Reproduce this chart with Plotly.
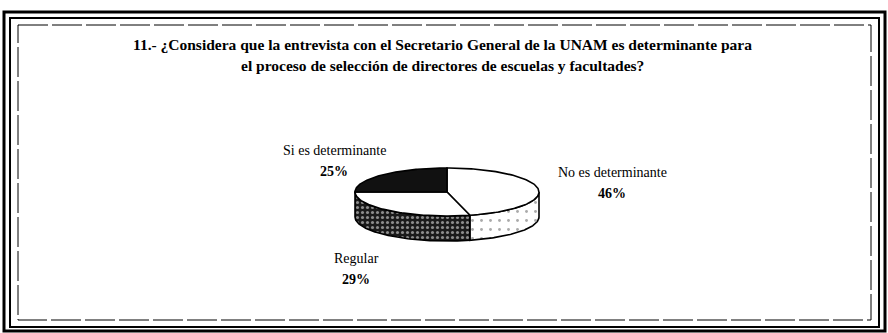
import numpy as np
import plotly.graph_objects as go

# Survey answers, in clockwise order starting at 12 o'clock
categories = ["No es determinante", "Regular", "Si es determinante"]
values = [46, 29, 25]
pct_labels = ["46%", "29%", "25%"]

title_lines = [
    "11.- ¿Considera que la entrevista con el Secretario General de la UNAM es determinante para",
    "el proceso de selección de directores de escuelas y facultades?",
]

W, H = 888, 333
SERIF = "Liberation Serif"

# 3D pie geometry (pixel space, y grows downward)
CX, CY = 447, 192
RX, RY = 92, 24
DEPTH = 25

top_fill = ["white", "white", "#111111"]
side_style = [
    dict(fillcolor="white", fillpattern=dict(shape=".", fgcolor="#555555", bgcolor="white",
                                             size=9, solidity=0.08)),
    dict(fillcolor="#222222", fillpattern=dict(shape=".", fgcolor="white", bgcolor="#1a1a1a",
                                               size=5, solidity=0.3)),
    dict(fillcolor="#111111"),
]


def pt(theta_deg, drop=0.0):
    t = np.radians(theta_deg)
    return CX + RX * np.cos(t), CY - RY * np.sin(t) + drop


fig = go.Figure()

# slice angle spans (clockwise from 90 degrees)
total = float(sum(values))
spans = []
start = 90.0
for v in values:
    sweep = 360.0 * v / total
    spans.append((start, start - sweep))
    start -= sweep

# side walls: only the front half (angles -180..0) is visible
for i, (a0, a1) in enumerate(spans):
    hi, lo = min(a0, 0.0), max(a1, -180.0)
    if hi <= lo:
        continue
    th = np.linspace(hi, lo, 80)
    xs_t, ys_t = pt(th)
    xs_b, ys_b = pt(th[::-1], DEPTH)
    xs = np.concatenate([xs_t, xs_b, xs_t[:1]])
    ys = np.concatenate([ys_t, ys_b, ys_t[:1]])
    fig.add_trace(go.Scatter(x=xs, y=ys, mode="lines", fill="toself",
                             line=dict(color="black", width=1.6),
                             hoverinfo="skip", showlegend=False, **side_style[i]))

# top faces
for i, (a0, a1) in enumerate(spans):
    th = np.linspace(a0, a1, 120)
    xs, ys = pt(th)
    xs = np.concatenate([[CX], xs, [CX]])
    ys = np.concatenate([[CY], ys, [CY]])
    fig.add_trace(go.Scatter(x=xs, y=ys, mode="lines", fill="toself",
                             fillcolor=top_fill[i],
                             line=dict(color="black", width=1.6),
                             name=categories[i], hoverinfo="name", showlegend=False))

# slice labels
label_pos = {
    "No es determinante": (612, 172),
    "Regular": (356, 258),
    "Si es determinante": (334, 150),
}
annotations = []
for cat, pct in zip(categories, pct_labels):
    x, y = label_pos[cat]
    annotations.append(dict(x=x, y=y, text=cat, showarrow=False, xref="x", yref="y",
                            font=dict(family=SERIF, size=14, color="black")))
    annotations.append(dict(x=x, y=y + 21, text=f"<b>{pct}</b>", showarrow=False,
                            xref="x", yref="y",
                            font=dict(family=SERIF, size=14, color="black")))

# two-line title
for k, line in enumerate(title_lines):
    annotations.append(dict(x=442, y=44 + 21 * k, text=f"<b>{line}</b>", showarrow=False,
                            xref="x", yref="y",
                            font=dict(family=SERIF, size=15.5, color="black")))

# double frame plus inner thin border
shapes = [
    dict(type="rect", x0=4, y0=12, x1=885, y1=331, xref="x", yref="y",
         line=dict(color="black", width=3)),
    dict(type="rect", x0=10, y0=18, x1=879, y1=327, xref="x", yref="y",
         line=dict(color="black", width=2)),
    dict(type="rect", x0=18, y0=25, x1=871, y1=320, xref="x", yref="y",
         line=dict(color="black", width=1, dash="30px,4px")),
]

fig.update_layout(
    width=W, height=H,
    margin=dict(l=0, r=0, t=0, b=0),
    paper_bgcolor="white", plot_bgcolor="white",
    xaxis=dict(range=[0, W], visible=False, fixedrange=True),
    yaxis=dict(range=[H, 0], visible=False, fixedrange=True),
    annotations=annotations,
    shapes=shapes,
)

fig.write_html("out.html")
